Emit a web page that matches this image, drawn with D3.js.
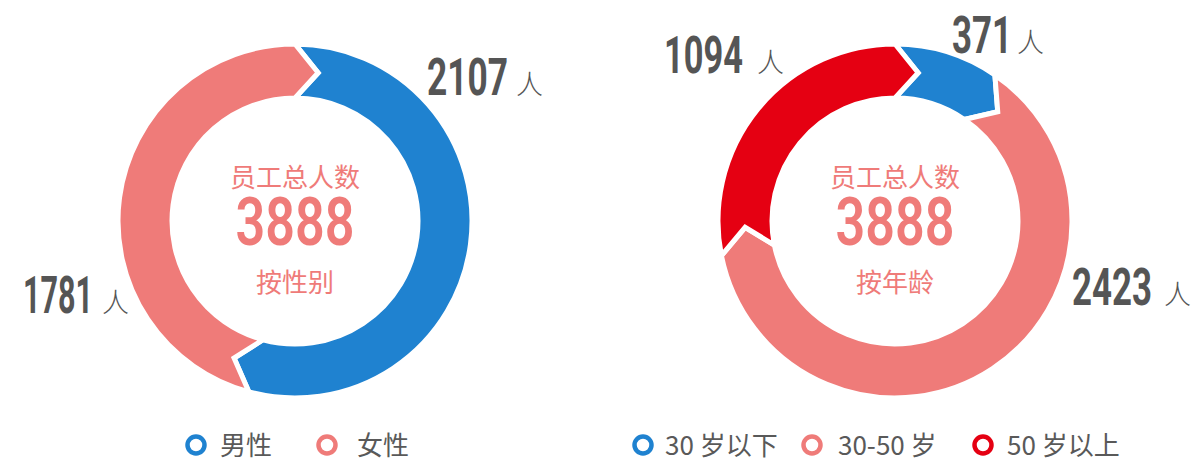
<!DOCTYPE html>
<html>
<head>
<meta charset="utf-8">
<script src="https://cdn.jsdelivr.net/npm/d3@7"></script>
<style>
html,body{margin:0;padding:0;background:#fff;}
svg{display:block;}
</style>
</head>
<body>
<svg id="chart" width="1195" height="459"></svg>
<script>
// ---- data ----
const genderCategories = ["男性", "女性"];
const genderValues = [2107, 1781];
const genderColors = ["#1f82d0", "#ef7b79"];

const ageCategories = ["30 岁以下", "30-50 岁", "50 岁以上"];
const ageValues = [371, 2423, 1094];
const ageColors = ["#1f82d0", "#ef7b79", "#e50012"];

const centerTitle = "员工总人数";
const totalLabel = "3888";
const genderSubtitle = "按性别";
const ageSubtitle = "按年龄";
const unit = "人";

// ---- layout ----
const svg = d3.select("#chart");
const numFont = "'Roboto','Liberation Sans',sans-serif";
const cjkFont = "'Noto Sans CJK SC','Noto Sans',sans-serif";
const textGrey = "#555555";
const outerR = 177, innerR = 123, tipDelta = 0.155;

function chevronPath(d) {
  const p = d3.path();
  const a0 = d.startAngle - Math.PI / 2, a1 = d.endAngle - Math.PI / 2;
  const mid = (outerR + innerR) / 2;
  p.moveTo(outerR * Math.cos(a0), outerR * Math.sin(a0));
  p.arc(0, 0, outerR, a0, a1, false);
  p.lineTo(mid * Math.cos(a1 + tipDelta), mid * Math.sin(a1 + tipDelta));
  p.lineTo(innerR * Math.cos(a1), innerR * Math.sin(a1));
  p.arc(0, 0, innerR, a1, a0, true);
  p.lineTo(mid * Math.cos(a0 + tipDelta), mid * Math.sin(a0 + tipDelta));
  p.closePath();
  return p.toString();
}

// condensed number text: scale horizontally to a target width
function condensed(parent, txt, x, y, size, width, fill, anchor, weight) {
  const t = parent.append("text")
    .attr("font-family", numFont).attr("font-weight", weight || 700).attr("font-size", size)
    .attr("text-anchor", anchor || "start")
    .attr("fill", fill).text(txt);
  const w = t.node().getComputedTextLength();
  t.attr("transform", `translate(${x},${y}) scale(${width / w},1)`);
  return t;
}

function donut(cx, cy, cats, vals, colors, subtitle, labels) {
  const g = svg.append("g").attr("transform", `translate(${cx},${cy})`);
  const color = d3.scaleOrdinal().domain(cats).range(colors);
  const pie = d3.pie().sort(null).value(d => d.v);
  const arcs = pie(cats.map((c, i) => ({c, v: vals[i]})));
  g.selectAll("path.seg").data(arcs).join("path")
    .attr("class", "seg")
    .attr("d", chevronPath)
    .attr("fill", d => color(d.data.c))
    .attr("stroke", "#fff")
    .attr("stroke-width", 5)
    .attr("stroke-linejoin", "miter");

  g.append("text").attr("x", 0).attr("y", -34)
    .attr("text-anchor", "middle")
    .attr("font-family", cjkFont).attr("font-size", 26).attr("fill", "#ef7b79")
    .text(centerTitle);
  condensed(g, totalLabel, 0, 24, 67, 119, "#ef7b79", "middle", 600);
  g.append("text").attr("x", 0).attr("y", 71)
    .attr("text-anchor", "middle")
    .attr("font-family", cjkFont).attr("font-size", 26).attr("fill", "#ef7b79")
    .text(subtitle);

  // value labels
  arcs.forEach((a, i) => {
    const L = labels[i];
    condensed(svg, d3.format("d")(a.data.v), L.x, L.y, 52, L.w, textGrey, "start", 700);
    svg.append("text").attr("x", L.ux).attr("y", L.y - 1)
      .attr("font-family", cjkFont).attr("font-weight", 300).attr("font-size", 27)
      .attr("fill", textGrey)
      .text(unit);
  });
}

function legend(items, colors, ringX, textX, cy) {
  items.forEach((c, i) => {
    svg.append("circle").attr("cx", ringX[i]).attr("cy", cy).attr("r", 8.5)
      .attr("fill", "#fff").attr("stroke", colors[i]).attr("stroke-width", 4.5);
    svg.append("text").attr("x", textX[i]).attr("y", cy + 9.5)
      .attr("font-family", cjkFont).attr("font-size", 26).attr("fill", "#595959")
      .text(c);
  });
}

donut(295, 221, genderCategories, genderValues, genderColors, genderSubtitle, [
  {x: 427, y: 95, w: 81, ux: 516},
  {x: 23, y: 313, w: 70, ux: 102}
]);
donut(895, 221, ageCategories, ageValues, ageColors, ageSubtitle, [
  {x: 952, y: 53, w: 60, ux: 1017},
  {x: 1072, y: 305, w: 80, ux: 1164},
  {x: 664, y: 73, w: 79, ux: 757}
]);

legend(genderCategories, genderColors, [196, 327], [220, 357], 445);
legend(ageCategories, ageColors, [643, 812, 983], [665, 838, 1007], 445);
</script>
</body>
</html>
